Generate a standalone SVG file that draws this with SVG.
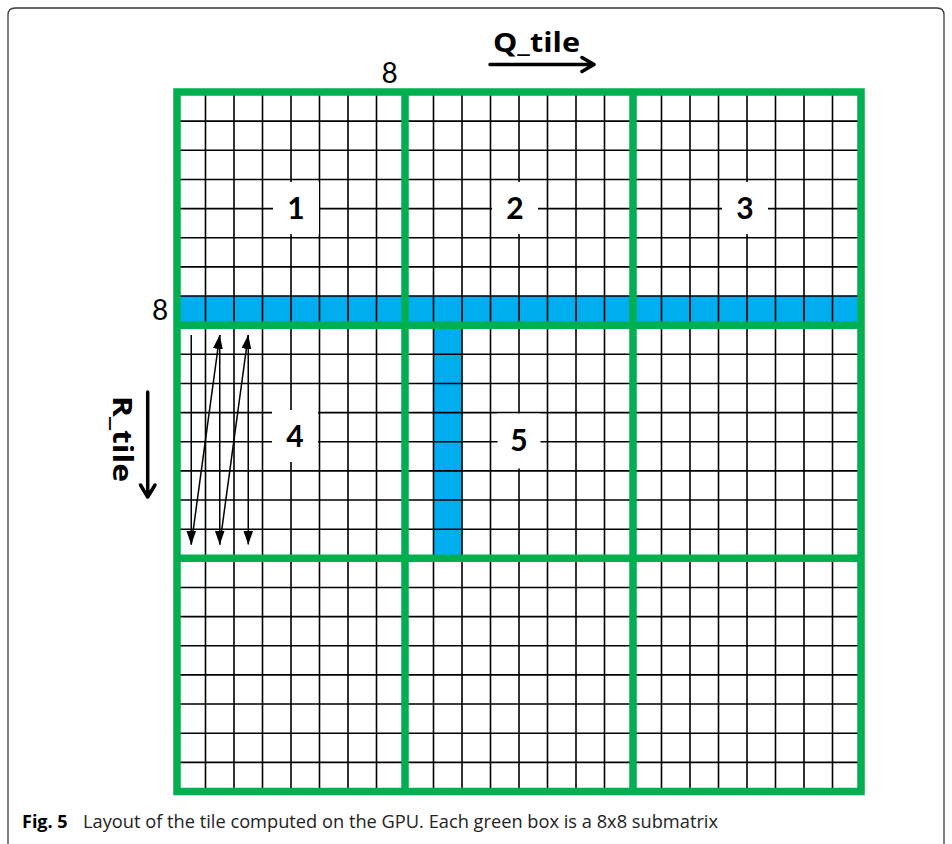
<svg xmlns="http://www.w3.org/2000/svg" width="952" height="844" viewBox="0 0 952 844">
<style>
.grid{fill:none;stroke:#000;stroke-width:1.6}
.green{fill:none;stroke:#00B050;stroke-width:7.5;stroke-linecap:square}
.blue{fill:#00AEEF}
.box{fill:#fff}
.num{font-family:"Lato","Liberation Sans",sans-serif;font-weight:bold;font-size:30px;text-anchor:middle;fill:#000}
.eight{font-family:"Lato","Liberation Sans",sans-serif;font-size:28px;text-anchor:middle;fill:#000}
.axis{font-family:"Open Sans","Liberation Sans",sans-serif;font-weight:bold;font-size:26px;fill:#000}
.arr{fill:none;stroke:#000;stroke-width:1.5}
.big{fill:none;stroke:#000;stroke-width:3.5;stroke-linecap:round;stroke-linejoin:round}
.cap{font-family:"Open Sans","Liberation Sans",sans-serif;font-size:18px;fill:#222}
</style>
<defs>
<marker id="ah" markerUnits="userSpaceOnUse" markerWidth="14" markerHeight="12" viewBox="0 0 14 10" refX="14" refY="5" orient="auto">
<path d="M0 0L14 5L0 10z" fill="#000"/>
</marker>
</defs>
<rect x="0" y="0" width="952" height="844" fill="#fff"/>
<path d="M8 844V15Q8 8 15 8H937Q944 8 944 15V844" fill="none" stroke="#3a3a3a" stroke-width="1.3"/>

<g id="matrix">
<rect class="blue" x="177" y="296" width="684" height="29.2"/>
<rect class="blue" x="433.5" y="325" width="28.5" height="233.3"/>
<path class="grid" d="M205.5 92V791.5M234 92V791.5M262.5 92V791.5M291 92V791.5M319.5 92V791.5M348 92V791.5M376.5 92V791.5M433.5 92V791.5M462 92V791.5M490.5 92V791.5M519 92V791.5M547.5 92V791.5M576 92V791.5M604.5 92V791.5M661.5 92V791.5M690 92V791.5M718.5 92V791.5M747 92V791.5M775.5 92V791.5M804 92V791.5M832.5 92V791.5
M177 121.15H861M177 150.29H861M177 179.44H861M177 208.58H861M177 237.73H861M177 266.88H861M177 296.02H861M177 354.31H861M177 383.46H861M177 412.6H861M177 441.75H861M177 470.9H861M177 500.04H861M177 529.19H861M177 587.48H861M177 616.63H861M177 645.77H861M177 674.92H861M177 704.06H861M177 733.21H861M177 762.35H861"/>
<path class="green" d="M177 92H861V791.5H177ZM405 92V791.5M633 92V791.5M177 325.17H861M177 558.33H861"/>
</g>

<g id="label1"><rect class="box" x="273" y="182" width="46" height="52"/><text class="num" x="296" y="219">1</text></g>
<g id="label2"><rect class="box" x="492" y="182" width="46" height="52"/><text class="num" x="515" y="219">2</text></g>
<g id="label3"><rect class="box" x="722" y="182" width="46" height="52"/><text class="num" x="745" y="219">3</text></g>
<g id="label4"><rect class="box" x="272" y="410" width="46" height="52"/><text class="num" x="295" y="447">4</text></g>
<g id="label5"><rect class="box" x="497.5" y="413.5" width="43" height="55"/><text class="num" x="519" y="451">5</text></g>

<g id="dims">
<text class="eight" x="389.5" y="83">8</text>
<text class="eight" x="160" y="320">8</text>
</g>

<g id="qtile">
<text class="axis" x="493" y="52" textLength="87" lengthAdjust="spacingAndGlyphs">Q_tile</text>
<path class="big" d="M490 64.5H594M582 57.5L594 64.5L582 71.5"/>
</g>
<g id="rtile">
<text class="axis" transform="translate(113,396) rotate(90)" x="0" y="0" textLength="86" lengthAdjust="spacingAndGlyphs">R_tile</text>
<path class="big" d="M147.7 392V497M140.5 485L147.7 497L155 485"/>
</g>

<g id="connectors">
<path class="arr" d="M191.25 335V544.5" marker-end="url(#ah)"/>
<path class="arr" d="M191.25 544.5L219.75 335" marker-end="url(#ah)"/>
<path class="arr" d="M219.75 335V544.5" marker-end="url(#ah)"/>
<path class="arr" d="M219.75 544.5L248.25 335" marker-end="url(#ah)"/>
<path class="arr" d="M248.25 335V544.5" marker-end="url(#ah)"/>
</g>

<text class="cap" x="22" y="828"><tspan font-weight="bold" fill="#000">Fig. 5</tspan><tspan x="83" textLength="635" lengthAdjust="spacingAndGlyphs">Layout of the tile computed on the GPU. Each green box is a 8x8 submatrix</tspan></text>
</svg>
